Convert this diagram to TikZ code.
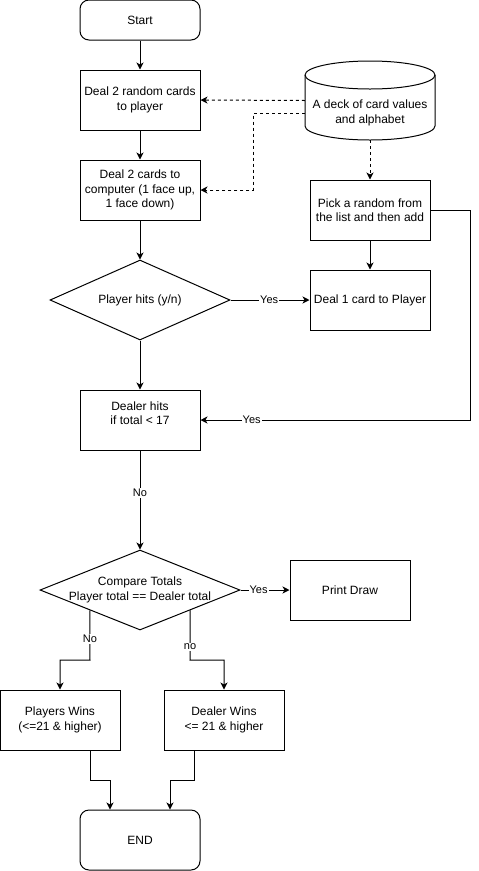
\documentclass[tikz,border=0pt]{standalone}
\usepackage{fontspec}
\setmainfont{Liberation Sans}
\usetikzlibrary{shapes.geometric,arrows.meta}
\begin{document}
\begin{tikzpicture}[x=1pt,y=1pt,
  every node/.style={font=\fontsize{12}{14.5}\selectfont},
  box/.style={draw,line width=1pt,minimum width=120,minimum height=60,inner sep=0,align=center},
  term/.style={box,rounded corners=9},
  dia/.style={draw,line width=1pt,diamond,inner sep=0},
  arr/.style={line width=1pt,-{Stealth[length=7pt,width=7pt,inset=2pt]}},
  darr/.style={arr,dashed,dash pattern=on 3pt off 3pt},
  lbl/.style={fill=white,inner sep=1pt,font=\fontsize{11}{13}\selectfont}]
\useasboundingbox (0,0) rectangle (479,-871);
% nodes
\node[term,minimum height=40] (start) at (140,-20) {Start};
\node[box] (deal2) at (140,-100) {Deal 2 random cards\\to player};
\node[box] (deal2c) at (140,-190) {Deal 2 cards to\\computer (1 face up,\\1 face down)};
\node[minimum width=130,minimum height=79,inner sep=0] (deck) at (370,-100.5) {};
\draw[line width=1pt] (305,-75) -- (305,-126) arc[start angle=180,end angle=360,x radius=65,y radius=14]
  -- (435,-75) arc[start angle=0,end angle=180,x radius=65,y radius=14] -- cycle;
\draw[line width=1pt] (305,-75) arc[start angle=180,end angle=360,x radius=65,y radius=14];
\node[align=center] at (370,-113) {A deck of card values\\and alphabet};
\node[box] (pick) at (370,-210) {Pick a random from\\the list and then add};
\node[box] (deal1) at (370,-300) {Deal 1 card to Player};
\node[dia,minimum width=180,minimum height=80] (hits) at (140,-300) {};
\node at (hits) {Player hits (y/n)};
\node[box] (dealer) at (140,-420) {};
\node[align=center] at (140,-413) {Dealer hits\\if total < 17};
\node[dia,minimum width=200,minimum height=80] (compare) at (140,-590) {};
\node[align=center] at (140,-590) {Compare Totals\\Player total == Dealer total};
\node[box] (pdraw) at (350,-590) {Print Draw};
\node[box] (pwins) at (60,-720) {Players Wins\\(<=21 \& higher)};
\node[box] (dwins) at (224,-720) {Dealer Wins\\<= 21 \& higher};
\node[term] (end) at (140,-840) {END};
% connectors
\draw[arr] (start) -- (deal2);
\draw[arr] (deal2) -- (deal2c);
\draw[arr] (deal2c) -- (hits);
\draw[arr] (hits) -- (dealer);
\draw[darr] (deck.west) -- (deal2.east);
\draw[darr] ([yshift=-13]deck.west) -- (253,-113.5) |- (deal2c.east);
\draw[darr] (deck.south) -- (pick.north);
\draw[arr] (pick) -- (deal1);
\draw[arr] (hits.east) -- node[lbl,pos=0.49]{Yes} (deal1.west);
\draw[arr] (pick.east) -- (470,-210) -- (470,-420) -- node[lbl,pos=0.81]{Yes} (dealer.east);
\draw[arr] (dealer.south) -- node[lbl,pos=0.43]{No} (compare.north);
\draw[arr] (compare.east) -- node[lbl,pos=0.37]{Yes} (pdraw.west);
\draw[arr] (compare.south west) -- node[lbl,pos=0.58]{No} (90,-660) -| (pwins.north);
\draw[arr] (compare.south east) -- node[lbl,pos=0.74]{no} (190,-660) -| (dwins.north);
\draw[arr] ([xshift=30]pwins.south) -- (90,-780) -| ([xshift=-30]end.north);
\draw[arr] ([xshift=-30]dwins.south) -- (194,-780) -| ([xshift=30]end.north);
\end{tikzpicture}
\end{document}
